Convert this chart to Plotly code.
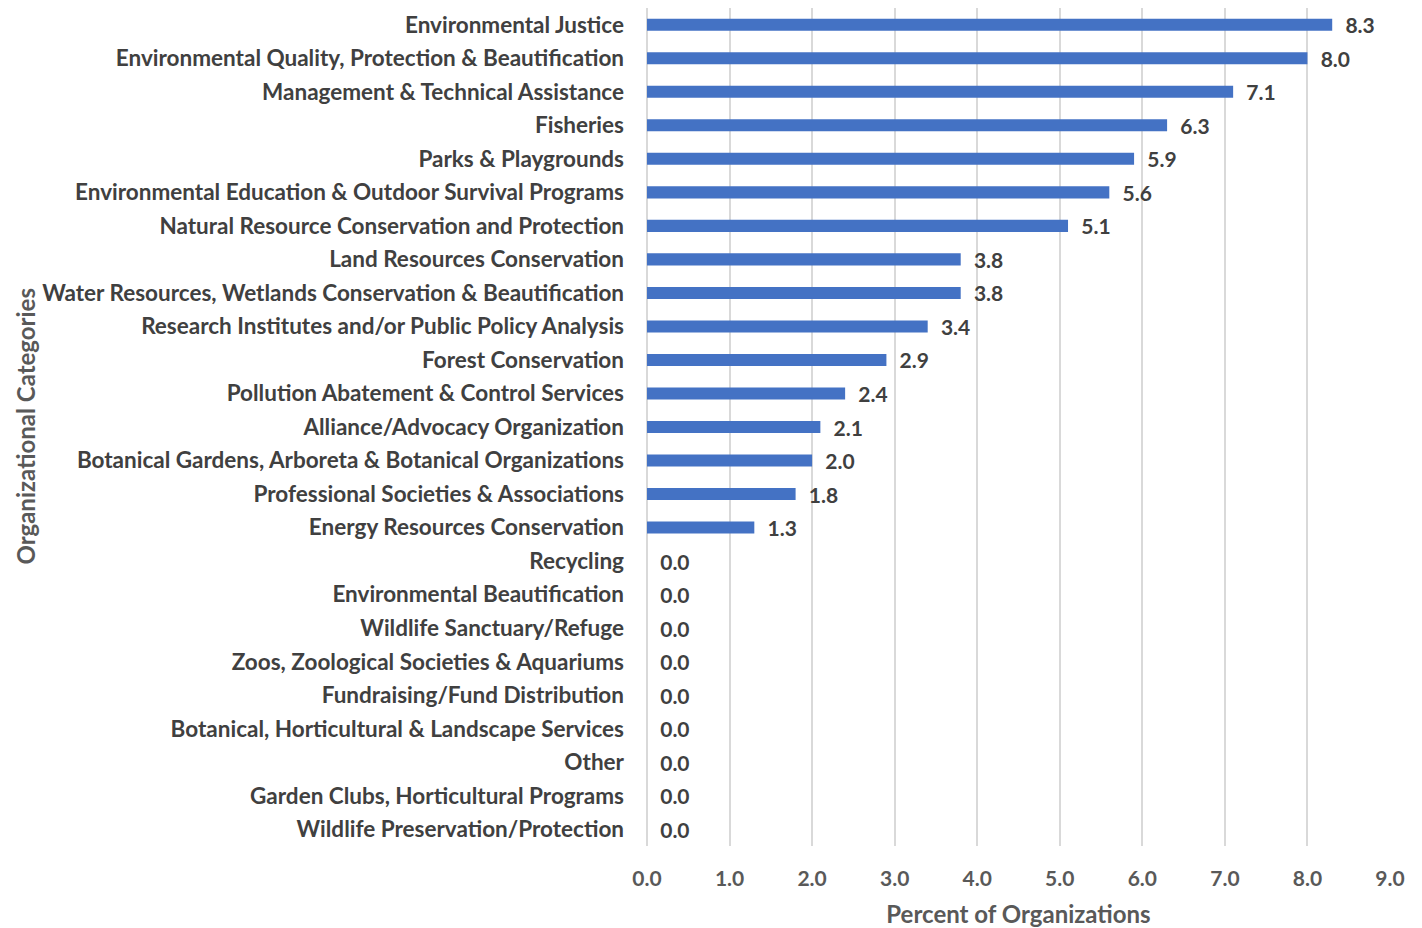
import plotly.graph_objects as go

categories = [
    "Environmental Justice",
    "Environmental Quality, Protection & Beautification",
    "Management & Technical Assistance",
    "Fisheries",
    "Parks & Playgrounds",
    "Environmental Education & Outdoor Survival Programs",
    "Natural Resource Conservation and Protection",
    "Land Resources Conservation",
    "Water Resources, Wetlands Conservation & Beautification",
    "Research Institutes and/or Public Policy Analysis",
    "Forest Conservation",
    "Pollution Abatement & Control Services",
    "Alliance/Advocacy Organization",
    "Botanical Gardens, Arboreta & Botanical Organizations",
    "Professional Societies & Associations",
    "Energy Resources Conservation",
    "Recycling",
    "Environmental Beautification",
    "Wildlife Sanctuary/Refuge",
    "Zoos, Zoological Societies & Aquariums",
    "Fundraising/Fund Distribution",
    "Botanical, Horticultural & Landscape Services",
    "Other",
    "Garden Clubs, Horticultural Programs",
    "Wildlife Preservation/Protection",
]
values = [8.3, 8.0, 7.1, 6.3, 5.9, 5.6, 5.1, 3.8, 3.8, 3.4, 2.9, 2.4, 2.1, 2.0,
          1.8, 1.3, 0.0, 0.0, 0.0, 0.0, 0.0, 0.0, 0.0, 0.0, 0.0]
x_ticks = [0, 1, 2, 3, 4, 5, 6, 7, 8, 9]

FONT = "Lato"

fig = go.Figure(go.Bar(
    y=categories,
    x=values,
    orientation="h",
    marker=dict(color="#4472C4", line=dict(width=0)),
    text=["\u00a0\u00a0" + f"{v:.1f}" for v in values],
    textposition="outside",
    constraintext="none",
    cliponaxis=False,
    textfont=dict(family=FONT, size=21, color="#404040", weight="bold"),
))

fig.update_layout(
    width=1414, height=920,
    margin=dict(l=639, r=32, t=0, b=82, autoexpand=False),
    paper_bgcolor="white", plot_bgcolor="white",
    bargap=0.64,
    showlegend=False,
    font=dict(family=FONT, size=21, color="#404040", weight="bold"),
)
fig.update_xaxes(
    range=[0, 9],
    automargin=False,
    tickvals=x_ticks,
    ticktext=[f"{t:.1f}" for t in x_ticks],
    tickfont=dict(family=FONT, size=21, color="#595959", weight="bold"),
    showgrid=True, gridcolor="#d9d9d9", gridwidth=1.5,
    zeroline=True, zerolinecolor="#d9d9d9", zerolinewidth=1.5,
    showline=False,
    ticks="", ticklabelstandoff=18,
    title=dict(text="Percent of Organizations", standoff=18,
               font=dict(family=FONT, size=24, color="#595959", weight="bold")),
)
fig.update_yaxes(
    autorange="reversed",
    automargin=False,
    tickfont=dict(family=FONT, size=22.5, color="#404040", weight="bold"),
    ticks="", ticklabelstandoff=22,
    showgrid=False, showline=False,
)
fig.add_annotation(
    text="Organizational Categories", textangle=-90,
    xref="paper", yref="paper", x=-639 / 743, y=0.5,
    xanchor="left", yanchor="middle", showarrow=False,
    font=dict(family=FONT, size=24, color="#595959", weight="bold"),
)

fig.write_html("out.html")
